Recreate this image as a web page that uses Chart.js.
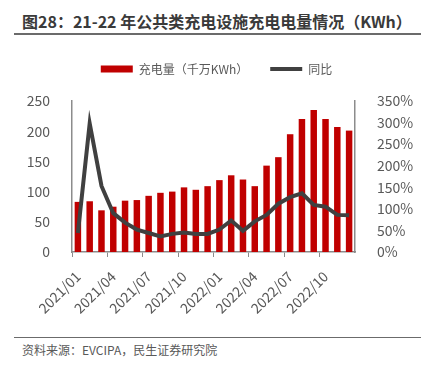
<!DOCTYPE html>
<html>
<head>
<meta charset="utf-8">
<script src="https://cdn.jsdelivr.net/npm/chart.js@4"></script>
<style>
    body { margin: 0; background: #fff; font-family: "Noto Sans CJK SC", "Noto Sans", sans-serif; }
    #wrap { position: relative; width: 433px; height: 370px; overflow: hidden; }
    #titulo { position: absolute; left: 22px; top: 9px; font-size: 16px; font-weight: bold; color: #3a3a3a; white-space: nowrap; }
    #linea1 { position: absolute; left: 14px; top: 33px; width: 407px; height: 2px; background: #6b6b6b; }
    #cv { position: absolute; left: 0; top: 41px; }
    #linea2 { position: absolute; left: 14px; top: 337px; width: 407px; height: 1px; background: #6b6b6b; }
    #fuente { position: absolute; left: 22px; top: 341px; font-size: 12px; color: #595959; white-space: nowrap; }
</style>
</head>
<body>
<div id="wrap">
    <div id="titulo">图28：21-22 年公共类充电设施充电电量情况（KWh）</div>
    <div id="linea1"></div>
    <canvas id="cv" width="433" height="294"></canvas>
    <div id="linea2"></div>
    <div id="fuente">资料来源：EVCIPA，民生证券研究院</div>
</div>
<script>
const meses = [
    '2021/01','2021/02','2021/03','2021/04','2021/05','2021/06',
    '2021/07','2021/08','2021/09','2021/10','2021/11','2021/12',
    '2022/01','2022/02','2022/03','2022/04','2022/05','2022/06',
    '2022/07','2022/08','2022/09','2022/10','2022/11','2022/12'
];
// 充电量（千万KWh）
const carga = [83, 84, 69, 75, 85, 86, 93, 98, 100, 107, 103, 109,
               119, 127, 120, 109, 143, 157, 195, 220, 235, 220, 207, 201];
// 同比 (%)
const yoy = [44, 298, 153, 90, 68, 52, 44, 36, 42, 45, 42, 42,
             52, 73, 49, 71, 86, 112, 127, 136, 109, 105, 86, 85];
const ticksIzq = [0, 50, 100, 150, 200, 250];
const ticksDer = [0, 50, 100, 150, 200, 250, 300, 350];

const gris = '#595959';
Chart.defaults.font.family = '"Noto Sans CJK SC", "Noto Sans", sans-serif';
Chart.defaults.color = gris;

// ajuste del espacio bajo la leyenda
const legendMargin = {
    id: 'legendMargin',
    beforeInit(chart) {
        const fit = chart.legend.fit;
        chart.legend.fit = function () {
            fit.bind(chart.legend)();
            this.height += 16;
        };
    }
};

new Chart(document.getElementById('cv'), {
    data: {
        labels: meses,
        datasets: [
            {
                type: 'bar',
                label: '充电量（千万KWh）',
                data: carga,
                backgroundColor: '#C00000',
                pointStyle: 'rect',
                categoryPercentage: 1,
                barPercentage: 0.55,
                yAxisID: 'y',
                order: 2
            },
            {
                type: 'line',
                label: '同比',
                data: yoy,
                borderColor: '#404040',
                backgroundColor: '#404040',
                borderWidth: 4,
                pointRadius: 0,
                pointStyle: 'line',
                tension: 0,
                yAxisID: 'y1',
                order: 1
            }
        ]
    },
    options: {
        responsive: false,
        animation: false,
        layout: { padding: { left: 0, right: 0, top: 0, bottom: 0 } },
        plugins: {
            legend: {
                position: 'top',
                labels: {
                    usePointStyle: true,
                    pointStyleWidth: 32,
                    boxHeight: 7,
                    padding: 22,
                    font: { size: 12 },
                    color: gris,
                    sort: (a, b) => a.datasetIndex - b.datasetIndex
                }
            },
            tooltip: { enabled: false }
        },
        scales: {
            x: {
                offset: true,
                grid: {
                    offset: true,
                    drawOnChartArea: false,
                    tickLength: 5,
                    color: ctx => ctx.index % 3 === 0 ? '#8c8c8c' : 'rgba(0,0,0,0)'
                },
                border: { display: true, color: '#8c8c8c', width: 1.5 },
                ticks: {
                    autoSkip: false,
                    minRotation: 45,
                    maxRotation: 45,
                    padding: 11,
                    font: { size: 14 },
                    callback: function (v, i) { return i % 3 === 0 ? meses[i] : ''; }
                },
                afterFit: s => { s.height = 83; }
            },
            y: {
                position: 'left',
                min: 0,
                max: 250,
                afterBuildTicks: s => { s.ticks = ticksIzq.map(v => ({ value: v })); },
                grid: { display: false },
                border: { display: true, color: '#8c8c8c', width: 1.5 },
                ticks: { padding: 14, font: { size: 14 } },
                afterFit: s => { s.width = 72; }
            },
            y1: {
                position: 'right',
                min: 0,
                max: 350,
                afterBuildTicks: s => { s.ticks = ticksDer.map(v => ({ value: v })); },
                grid: { display: false },
                border: { display: true, color: '#8c8c8c', width: 1.5 },
                ticks: { padding: 14, font: { size: 14 }, callback: v => v + '%' },
                afterFit: s => { s.width = 78; }
            }
        }
    },
    plugins: [legendMargin]
});
</script>
</body>
</html>
